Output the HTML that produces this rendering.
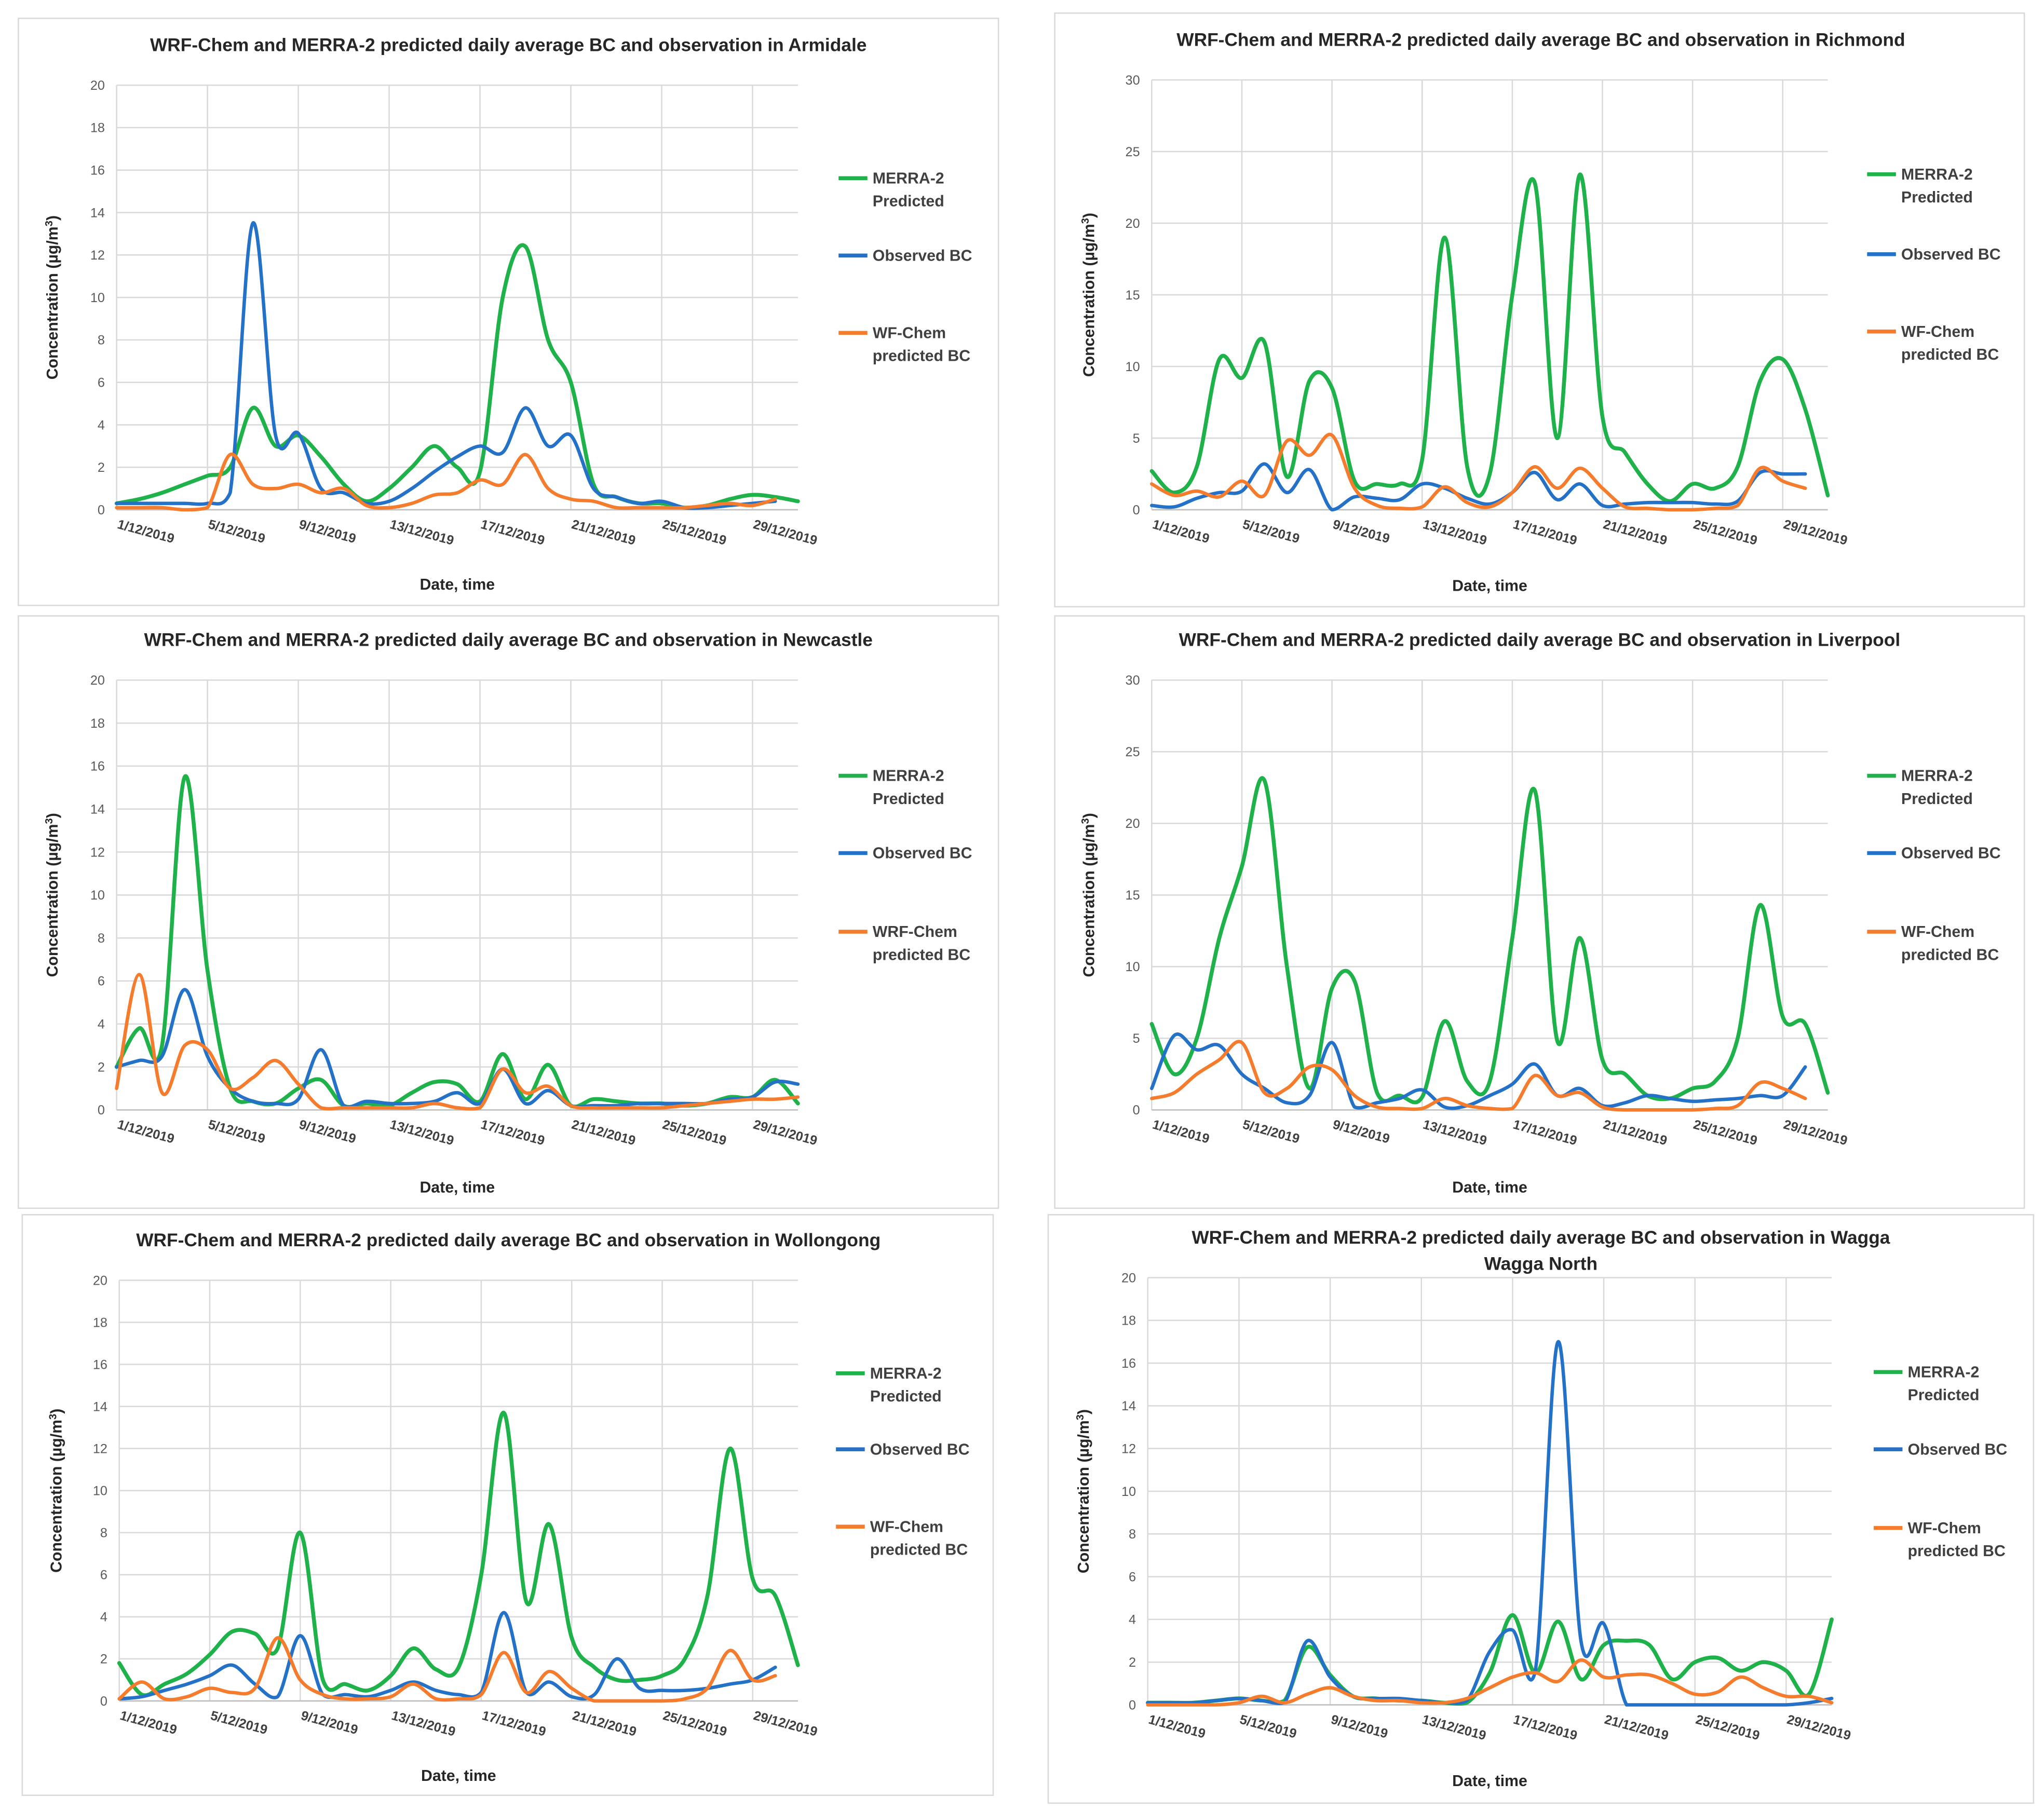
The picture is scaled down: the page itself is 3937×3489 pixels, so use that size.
<!DOCTYPE html>
<html><head><meta charset="utf-8">
<style>
html,body{margin:0;padding:0;background:#fff;}
svg{display:block;font-family:"Liberation Sans",Arial,sans-serif;}
</style></head>
<body>
<svg id="chart" width="3937" height="3489" viewBox="0 0 1560 1382" preserveAspectRatio="none" xmlns="http://www.w3.org/2000/svg"></svg>
<script>
const dateLabels = ['1/12/2019','5/12/2019','9/12/2019','13/12/2019','17/12/2019','21/12/2019','25/12/2019','29/12/2019'];
const armidaleMerra = [0.3,0.5,0.8,1.2,1.6,2.0,4.8,3.0,3.5,2.5,1.2,0.4,1.0,2.0,3.0,2.0,1.8,10.0,12.4,8.0,6.0,1.2,0.6,0.3,0.3,0.1,0.2,0.5,0.7,0.6,0.4];
const armidaleObs = [0.3,0.3,0.3,0.3,0.3,0.8,13.5,3.5,3.6,1.0,0.8,0.3,0.4,1.0,1.8,2.5,3.0,2.7,4.8,3.0,3.5,1.0,0.6,0.3,0.4,0.1,0.1,0.2,0.3,0.4];
const armidaleWrf = [0.1,0.1,0.1,0.0,0.1,2.6,1.2,1.0,1.2,0.8,1.0,0.2,0.1,0.3,0.7,0.8,1.4,1.2,2.6,1.0,0.5,0.4,0.1,0.1,0.1,0.1,0.2,0.3,0.2,0.5];
const richmondMerra = [2.7,1.2,3.0,10.5,9.2,11.7,2.3,9.0,8.5,2.0,1.8,1.8,3.5,19.0,3.0,2.5,15.0,22.8,5.0,23.4,6.5,4.0,1.8,0.6,1.8,1.5,3.0,9.0,10.5,7.0,1.0];
const richmondObs = [0.3,0.2,0.8,1.2,1.3,3.2,1.2,2.8,0.0,0.9,0.8,0.7,1.8,1.5,0.8,0.4,1.2,2.6,0.7,1.8,0.3,0.4,0.5,0.5,0.5,0.4,0.6,2.6,2.5,2.5];
const richmondWrf = [1.8,1.0,1.3,0.9,2.0,1.0,4.8,3.8,5.2,1.5,0.3,0.1,0.2,1.6,0.5,0.2,1.2,3.0,1.5,2.9,1.5,0.2,0.1,0.0,0.0,0.1,0.3,2.9,2.0,1.5];
const newcastleMerra = [2.0,3.8,3.0,15.5,6.5,1.0,0.4,0.3,1.0,1.4,0.2,0.3,0.2,0.8,1.3,1.2,0.4,2.6,0.5,2.1,0.2,0.5,0.4,0.3,0.3,0.2,0.3,0.6,0.6,1.4,0.3];
const newcastleObs = [2.0,2.3,2.5,5.6,2.5,1.0,0.4,0.3,0.5,2.8,0.2,0.4,0.3,0.3,0.4,0.8,0.3,1.9,0.3,0.9,0.2,0.2,0.2,0.3,0.3,0.3,0.3,0.5,0.6,1.3,1.2];
const newcastleWrf = [1.0,6.3,0.8,3.0,2.8,1.0,1.5,2.3,1.2,0.1,0.1,0.1,0.1,0.1,0.3,0.1,0.1,1.9,0.8,1.1,0.2,0.1,0.1,0.1,0.1,0.2,0.3,0.4,0.5,0.5,0.6];
const liverpoolMerra = [6.0,2.5,5.0,12.0,17.0,23.0,10.0,1.5,8.5,9.0,1.2,1.0,0.9,6.2,2.0,2.0,12.0,22.3,4.8,12.0,3.5,2.5,1.0,0.8,1.5,2.0,5.0,14.3,6.5,6.0,1.2];
const liverpoolObs = [1.5,5.2,4.2,4.5,2.5,1.5,0.5,1.0,4.7,0.2,0.5,0.8,1.4,0.2,0.3,1.0,1.8,3.2,1.0,1.5,0.3,0.5,1.0,0.8,0.6,0.7,0.8,1.0,1.0,3.0];
const liverpoolWrf = [0.8,1.2,2.5,3.5,4.7,1.2,1.5,3.0,2.8,1.0,0.2,0.1,0.1,0.8,0.3,0.1,0.1,2.4,1.0,1.2,0.2,0.0,0.0,0.0,0.0,0.1,0.3,1.9,1.5,0.8];
const wollongongMerra = [1.8,0.3,0.8,1.3,2.2,3.3,3.2,2.5,8.0,1.0,0.8,0.5,1.2,2.5,1.5,1.6,6.0,13.7,4.7,8.4,3.0,1.6,1.0,1.0,1.2,2.0,5.0,12.0,5.8,5.0,1.7];
const wollongongObs = [0.1,0.2,0.5,0.8,1.2,1.7,0.8,0.2,3.1,0.3,0.3,0.2,0.5,0.9,0.5,0.3,0.4,4.2,0.4,0.9,0.2,0.3,2.0,0.6,0.5,0.5,0.6,0.8,1.0,1.6];
const wollongongWrf = [0.1,0.9,0.1,0.2,0.6,0.4,0.6,3.0,1.0,0.3,0.1,0.1,0.2,0.8,0.1,0.1,0.3,2.3,0.4,1.4,0.6,0.0,0.0,0.0,0.0,0.1,0.6,2.4,1.0,1.2];
const waggaMerra = [0.1,0.1,0.1,0.2,0.3,0.2,0.2,2.7,1.4,0.4,0.3,0.2,0.2,0.1,0.1,1.5,4.2,1.5,3.9,1.2,2.8,3.0,2.8,1.2,2.0,2.2,1.6,2.0,1.6,0.5,4.0];
const waggaObs = [0.1,0.1,0.1,0.2,0.3,0.2,0.1,3.0,1.3,0.4,0.3,0.3,0.2,0.1,0.2,2.5,3.5,1.6,17.0,3.0,3.8,0.0,0,0,0,0,0,0,0,0.1,0.3];
const waggaWrf = [0.0,0.0,0.0,0.0,0.1,0.4,0.1,0.5,0.8,0.4,0.2,0.2,0.1,0.1,0.3,0.8,1.3,1.5,1.1,2.1,1.3,1.4,1.4,1.0,0.5,0.6,1.3,0.8,0.4,0.4,0.1];

const svg = document.getElementById('chart');
const NS = 'http://www.w3.org/2000/svg';
function mk(tag, attrs, parent, text){
  const e = document.createElementNS(NS, tag);
  for (const k in attrs) e.setAttribute(k, attrs[k]);
  if (text !== undefined) e.textContent = text;
  parent.appendChild(e);
  return e;
}
const GREEN = '#1fb24a', BLUE = '#2471c8', ORANGE = '#f47c2c';

const panels = [
  {key:'armidale', box:[14,14,748,448], title:['WRF-Chem and MERRA-2 predicted daily average BC and observation in Armidale'], titleY:34, titleX:388,
   plot:[89,65,609,389], ymax:20, ystep:2, yTitleX:44, xTitleY:446, legX:640, legY:[136,195,254], wrfName:'WF-Chem',
   m:armidaleMerra, o:armidaleObs, w:armidaleWrf},
  {key:'richmond', box:[805,10,740,453], title:['WRF-Chem and MERRA-2 predicted daily average BC and observation in Richmond'], titleY:30, titleX:1176,
   plot:[879,61,1395,389], ymax:30, ystep:5, yTitleX:835, xTitleY:447, legX:1425, legY:[133,194,253], wrfName:'WF-Chem',
   m:richmondMerra, o:richmondObs, w:richmondWrf},
  {key:'newcastle', box:[14,470,748,452], title:['WRF-Chem and MERRA-2 predicted daily average BC and observation in Newcastle'], titleY:488, titleX:388,
   plot:[89,519,609,847], ymax:20, ystep:2, yTitleX:44, xTitleY:906, legX:640, legY:[592,651,711], wrfName:'WRF-Chem',
   m:newcastleMerra, o:newcastleObs, w:newcastleWrf},
  {key:'liverpool', box:[805,470,740,452], title:['WRF-Chem and MERRA-2 predicted daily average BC and observation in Liverpool'], titleY:488, titleX:1175,
   plot:[879,519,1395,847], ymax:30, ystep:5, yTitleX:835, xTitleY:906, legX:1425, legY:[592,651,711], wrfName:'WF-Chem',
   m:liverpoolMerra, o:liverpoolObs, w:liverpoolWrf},
  {key:'wollongong', box:[17,927,741,443], title:['WRF-Chem and MERRA-2 predicted daily average BC and observation in Wollongong'], titleY:946, titleX:388,
   plot:[91,977,609,1298], ymax:20, ystep:2, yTitleX:47, xTitleY:1355, legX:638, legY:[1048,1106,1165], wrfName:'WF-Chem',
   m:wollongongMerra, o:wollongongObs, w:wollongongWrf},
  {key:'wagga', box:[800,927,752,449], title:['WRF-Chem and MERRA-2 predicted daily average BC and observation in Wagga','Wagga North'], titleY:944, titleX:1176,
   plot:[876,975,1398,1301], ymax:20, ystep:2, yTitleX:831, xTitleY:1359, legX:1430, legY:[1047,1106,1166], wrfName:'WF-Chem',
   m:waggaMerra, o:waggaObs, w:waggaWrf}
];

function smoothPath(pts, yBottom){
  const cl = y => Math.min(y, yBottom);
  let d = 'M' + pts[0][0].toFixed(2) + ' ' + pts[0][1].toFixed(2);
  for (let i = 0; i < pts.length - 1; i++){
    const p0 = pts[i-1] || pts[i], p1 = pts[i], p2 = pts[i+1], p3 = pts[i+2] || p2;
    const c1x = p1[0] + (p2[0]-p0[0])/6, c1y = cl(p1[1] + (p2[1]-p0[1])/6);
    const c2x = p2[0] - (p3[0]-p1[0])/6, c2y = cl(p2[1] - (p3[1]-p1[1])/6);
    d += ' C' + c1x.toFixed(2)+' '+c1y.toFixed(2)+' '+c2x.toFixed(2)+' '+c2y.toFixed(2)+' '+p2[0].toFixed(2)+' '+p2[1].toFixed(2);
  }
  return d;
}

panels.forEach(p => {
  const g = mk('g', {}, svg);
  
  
  const [bx,by,bw,bh] = p.box;
  const bg = mk('rect', {x:bx, y:by, width:bw, height:bh, fill:'#fff', stroke:'#d9d9d9', 'stroke-width':1}, g);
  
  
  p.title.forEach((t, i) => {
    const tt = mk('text', {x:p.titleX, y:p.titleY + i*20 + 5, 'text-anchor':'middle', 'font-size':14, 'font-weight':'bold', fill:'#262626'}, g, t);
    
    
  });
  const [x0,y0,x1,y1] = p.plot;
  const xs = i => x0 + i * (x1 - x0) / 30;
  const ys = v => y1 - v * (y1 - y0) / p.ymax;
  for (let v = 0; v <= p.ymax + 1e-9; v += p.ystep){
    const gl = mk('line', {x1:x0, x2:x1, y1:ys(v), y2:ys(v), stroke:'#d9d9d9', 'stroke-width':1}, g);
    
    
    const tl = mk('text', {x:x0-9, y:ys(v)+3.5, 'text-anchor':'end', 'font-size':10, fill:'#595959'}, g, String(v));
    
    
  }
  dateLabels.forEach((lab, k) => {
    const xx = xs(k*4);
    const vl = mk('line', {x1:xx, x2:xx, y1:y0, y2:y1, stroke:'#d9d9d9', 'stroke-width':1}, g);
    
    
    const xl = mk('text', {x:xx, y:y1+14, 'font-size':10, 'font-weight':'bold', fill:'#404040', transform:'rotate(15 '+xx+' '+(y1+14)+')'}, g, lab);
    
    
  });
  const ax = mk('line', {x1:x0, x2:x1, y1:y1, y2:y1, stroke:'#bfbfbf', 'stroke-width':1}, g);
  
  
  const cy = (y0+y1)/2;
  const yt = mk('text', {x:p.yTitleX, y:cy, 'text-anchor':'middle', 'font-size':12, 'font-weight':'bold', fill:'#262626', transform:'rotate(-90 '+p.yTitleX+' '+cy+')'}, g);
  
  
  yt.appendChild(document.createTextNode('Concentration (µg/m'));
  mk('tspan', {'font-size':8, dy:-4}, yt, '3');
  mk('tspan', {dy:4}, yt, ')');
  const xt = mk('text', {x:(x0+x1)/2, y:p.xTitleY+4, 'text-anchor':'middle', 'font-size':12, 'font-weight':'bold', fill:'#262626'}, g, 'Date, time');
  
  
  const series = [
    {vals:p.m, color:GREEN, w:3, name:'merra2-line'},
    {vals:p.o, color:BLUE, w:2.6, name:'observed-bc-line'},
    {vals:p.w, color:ORANGE, w:2.6, name:'wrf-chem-line'}
  ];
  series.forEach(s => {
    const pts = s.vals.map((v,i) => [xs(i), ys(v)]);
    const path = mk('path', {d:smoothPath(pts, y1), fill:'none', stroke:s.color, 'stroke-width':s.w, 'stroke-linejoin':'round', 'stroke-linecap':'round'}, g);
    
    
  });
  const legs = [
    {color:GREEN, lines:['MERRA-2','Predicted'], name:'legend-merra2'},
    {color:BLUE, lines:['Observed BC'], name:'legend-observed-bc'},
    {color:ORANGE, lines:[p.wrfName,'predicted BC'], name:'legend-wrf-chem'}
  ];
  legs.forEach((L, i) => {
    const lg = mk('g', {}, g);
    
    
    const ly = p.legY[i];
    mk('line', {x1:p.legX, x2:p.legX+22, y1:ly, y2:ly, stroke:L.color, 'stroke-width':3}, lg);
    L.lines.forEach((t, j) => {
      mk('text', {x:p.legX+26, y:ly+4+j*17.5, 'font-size':12, 'font-weight':'bold', fill:'#404040'}, lg, t);
    });
  });
});
</script>
</body></html>
